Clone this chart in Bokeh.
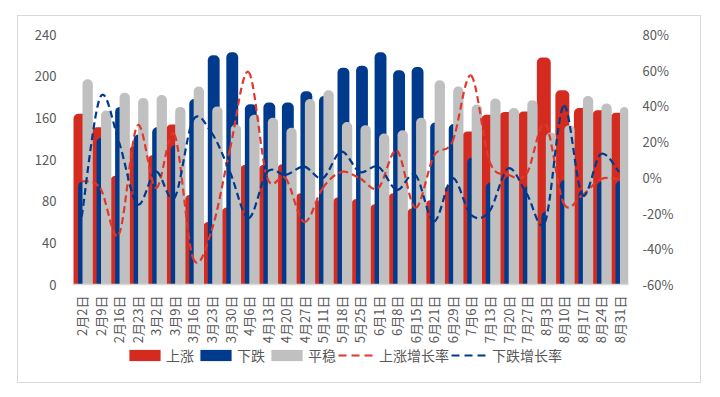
import math
import numpy as np
from bokeh.plotting import figure
from bokeh.layouts import column
from bokeh.models import (Range1d, LinearAxis, FixedTicker, PrintfTickFormatter,
                          Legend, LegendItem, ColumnDataSource)
from bokeh.transform import dodge
from bokeh.embed import file_html
from bokeh.resources import INLINE

dates = ["2月2日", "2月9日", "2月16日", "2月23日", "3月2日", "3月9日", "3月16日", "3月23日",
         "3月30日", "4月6日", "4月13日", "4月20日", "4月27日", "5月11日", "5月18日", "5月25日",
         "6月1日", "6月8日", "6月15日", "6月21日", "6月29日", "7月6日", "7月13日", "7月20日",
         "7月27日", "8月3日", "8月10日", "8月17日", "8月24日", "8月31日"]
up = [164, 151, 104.5, 133, 124, 153.6, 86, 60, 74, 115, 115, 115.4, 87.7, 81, 83.5,
      82, 77, 87.7, 73, 81, 94.7, 147, 163, 165.7, 166, 218, 186.5, 169.5, 167.3, 165]
down = [99, 141, 170.5, 144, 151, 134, 178, 220, 223, 173, 174.7, 174.7, 185.5, 181, 208,
        210, 223, 205.6, 208.7, 155.5, 154, 121.8, 98, 103.6, 94, 70, 100.4, 90.8, 98.8, 99.4]
flat = [197, 167, 184, 179, 182, 170.5, 190, 171, 153.6, 163, 160, 150.4, 178, 186.5, 156,
        153, 145, 148, 160, 196, 190, 172.8, 178.5, 169.5, 177, 146, 153, 181, 173.7, 170.5]
up_rate = [-2, -6, -32, 29, -6, 24, -45, -30, 16, 59, 0, -0.5, -25, -6, 3, -0.5, -6, 15,
           -17, 12, 20, 57, 9, 1.5, 2, 30, -14.5, -10, -1, -1]
down_rate = [-22, 45, 20, -15, 3.2, -11.6, 32, 25, 3, -22.8, 3, 1.4, 6, -0.5, 14.4, 3, 6,
             -7, 1.4, -24.7, -0.5, -21, -19, 5, -9, -25, 40, -9.8, 13, 3]
left_ticks = [0, 40, 80, 120, 160, 200, 240]
right_ticks = [-60, -40, -20, 0, 20, 40, 60, 80]
series_names = ["上涨", "下跌", "平稳", "上涨增长率", "下跌增长率"]

RED = "#D42A1F"
RED_LINE = "#E0392C"
BLUE = "#003A8C"
GRAY = "#C0C0C0"
TXT = "#595959"
FONT = "Noto Sans CJK SC"

xs = list(range(1, len(dates) + 1))
src = ColumnDataSource(dict(x=xs, up=up, down=down, flat=flat))

p = figure(width=682, height=330, x_range=Range1d(0.5, len(dates) + 0.5),
           y_range=Range1d(0, 240), output_backend="svg", toolbar_location=None,
           min_border_left=54, min_border_right=72, min_border_top=18, min_border_bottom=61)
p.extra_y_ranges = {"pct": Range1d(-60, 80)}
p.xgrid.visible = False
p.ygrid.visible = False
p.outline_line_color = None

# left axis
ya = p.yaxis[0]
ya.ticker = FixedTicker(ticks=left_ticks)
ya.axis_line_color = None
ya.major_tick_line_color = None
ya.minor_tick_line_color = None
ya.major_label_standoff = 10
ya.major_label_text_font = FONT
ya.major_label_text_font_size = "13px"
ya.major_label_text_color = TXT

# right axis
ra = LinearAxis(y_range_name="pct", ticker=FixedTicker(ticks=right_ticks),
                formatter=PrintfTickFormatter(format="%d%%"))
ra.axis_line_color = None
ra.major_tick_line_color = None
ra.minor_tick_line_color = None
ra.major_label_standoff = 8
ra.major_label_text_font = FONT
ra.major_label_text_font_size = "13px"
ra.major_label_text_color = TXT
p.add_layout(ra, "right")

# x axis
xa = p.xaxis[0]
xa.ticker = FixedTicker(ticks=xs)
xa.major_label_overrides = {x: d for x, d in zip(xs, dates)}
xa.axis_line_color = "#D9D9D9"
xa.axis_line_width = 1.5
xa.major_tick_line_color = None
xa.minor_tick_line_color = None
xa.major_label_orientation = math.pi / 2
xa.major_label_standoff = 5
xa.major_label_text_font = FONT
xa.major_label_text_font_size = "13px"
xa.major_label_text_color = TXT

bar_style = dict(line_color=None, border_radius=(5, 5, 0, 0))
p.vbar(x=dodge("x", -0.07), top="up", bottom=0, width=0.75, source=src,
       fill_color=RED, **bar_style)
p.vbar(x=dodge("x", 0.12), top="down", bottom=0, width=0.64, source=src,
       fill_color=BLUE, **bar_style)
p.vbar(x=dodge("x", 0.317), top="flat", bottom=0, width=0.556, source=src,
       fill_color=GRAY, **bar_style)


def bezier_source(vals):
    n = len(vals)
    d = dict(x0=[], y0=[], x1=[], y1=[], cx0=[], cy0=[], cx1=[], cy1=[])
    for i in range(n - 1):
        im, i2 = max(i - 1, 0), min(i + 2, n - 1)
        d["x0"].append(xs[i]); d["y0"].append(vals[i])
        d["x1"].append(xs[i + 1]); d["y1"].append(vals[i + 1])
        d["cx0"].append(xs[i] + (xs[i + 1] - xs[im]) / 6)
        d["cy0"].append(vals[i] + (vals[i + 1] - vals[im]) / 6)
        d["cx1"].append(xs[i + 1] - (xs[i2] - xs[i]) / 6)
        d["cy1"].append(vals[i + 1] - (vals[i2] - vals[i]) / 6)
    return ColumnDataSource(d)


bz = dict(x0="x0", y0="y0", x1="x1", y1="y1", cx0="cx0", cy0="cy0", cx1="cx1", cy1="cy1")
up_bz = bezier_source(up_rate)
down_bz = bezier_source(down_rate)
p.bezier(source=up_bz, line_color=RED_LINE, line_width=2.2, line_dash="7 4",
         y_range_name="pct", **bz)
p.bezier(source=down_bz, line_color=BLUE, line_width=2.2, line_dash="7 4",
         y_range_name="pct", **bz)

# legend strip: a small figure whose ranges keep its style-twin renderers out of view
lf = figure(width=682, height=36, x_range=Range1d(-20, -10), y_range=Range1d(-20, -10),
            output_backend="svg", toolbar_location=None, min_border=0,
            x_axis_location=None, y_axis_location=None)
lf.xgrid.visible = False
lf.ygrid.visible = False
lf.outline_line_color = None
lr = [lf.vbar(x="x", top=col, width=0.5, source=src, fill_color=c, line_color=None,
              border_radius=4) for col, c in (("up", RED), ("down", BLUE), ("flat", GRAY))]
lr += [lf.bezier(source=s, line_color=c, line_width=2.2, line_dash="8 5", **bz)
       for s, c in ((up_bz, RED_LINE), (down_bz, BLUE))]
legend = Legend(items=[LegendItem(label=n, renderers=[r]) for n, r in zip(series_names, lr)],
                orientation="horizontal", location=(53, 17), glyph_width=39,
                glyph_height=14, label_height=14, label_text_font=FONT,
                label_text_font_size="14px", label_text_color=TXT, label_standoff=2,
                spacing=2, padding=0, margin=0, border_line_color=None,
                background_fill_alpha=0)
lf.add_layout(legend)

layout = column(p, lf, spacing=0, margin=(15, 0, 0, 17),
                styles={"border": "1px solid #D9D9D9", "background": "white"})

open("out.html", "w").write(file_html(layout, INLINE))
